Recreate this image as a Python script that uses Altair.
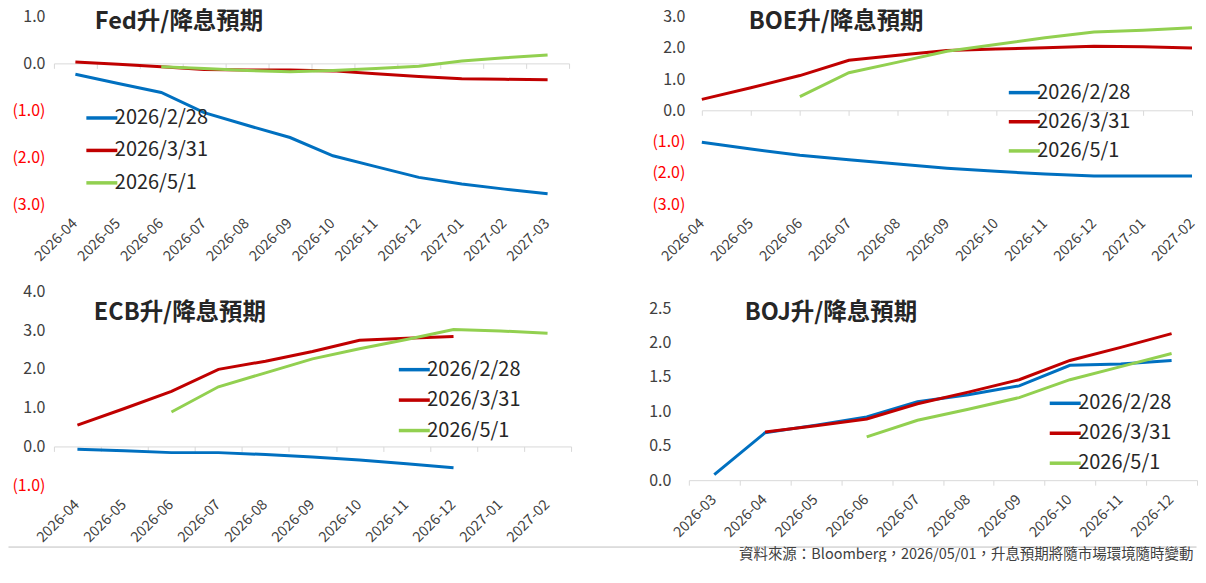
import altair as alt
import pandas as pd

FONT = "Noto Sans CJK TC"
NBSP = "\u00a0"

series_names = ["2026/2/28", "2026/3/31", "2026/5/1"]
series_colors = ["#0070C0", "#C00000", "#92D050"]

# ---------------- Fed ----------------
fed_months = ["2026-04", "2026-05", "2026-06", "2026-07", "2026-08", "2026-09",
              "2026-10", "2026-11", "2026-12", "2027-01", "2027-02", "2027-03"]
fed_0228 = [-0.23, -0.43, -0.62, -1.05, -1.32, -1.58, -1.97, -2.20, -2.43, -2.57, -2.68, -2.78]
fed_0331 = [0.03, -0.02, -0.07, -0.13, -0.14, -0.14, -0.16, -0.22, -0.28, -0.33, -0.34, -0.35]
fed_0501 = [None, None, -0.07, -0.11, -0.15, -0.18, -0.15, -0.11, -0.06, 0.05, 0.12, 0.18]
fed_yticks = [-3, -2, -1, 0, 1]

# ---------------- BOE ----------------
boe_months = ["2026-04", "2026-05", "2026-06", "2026-07", "2026-08", "2026-09",
              "2026-10", "2026-11", "2026-12", "2027-01", "2027-02"]
boe_0228 = [-1.02, -1.24, -1.44, -1.58, -1.72, -1.85, -1.95, -2.04, -2.10, -2.10, -2.10]
boe_0331 = [0.35, 0.72, 1.11, 1.60, 1.76, 1.91, 1.96, 2.00, 2.05, 2.03, 1.99]
boe_0501 = [None, None, 0.44, 1.20, 1.54, 1.89, 2.10, 2.32, 2.50, 2.56, 2.64]
boe_yticks = [-3, -2, -1, 0, 1, 2, 3]

# ---------------- ECB ----------------
ecb_months = ["2026-04", "2026-05", "2026-06", "2026-07", "2026-08", "2026-09",
              "2026-10", "2026-11", "2026-12", "2027-01", "2027-02"]
ecb_0228 = [-0.07, -0.11, -0.16, -0.16, -0.21, -0.27, -0.35, -0.45, -0.55, None, None]
ecb_0331 = [0.55, 0.98, 1.42, 1.99, 2.20, 2.45, 2.74, 2.79, 2.84, None, None]
ecb_0501 = [None, None, 0.89, 1.54, 1.90, 2.26, 2.52, 2.76, 3.02, 2.98, 2.92]
ecb_yticks = [-1, 0, 1, 2, 3, 4]

# ---------------- BOJ ----------------
boj_months = ["2026-03", "2026-04", "2026-05", "2026-06", "2026-07", "2026-08",
              "2026-09", "2026-10", "2026-11", "2026-12"]
boj_0228 = [0.08, 0.69, 0.80, 0.92, 1.14, 1.24, 1.37, 1.67, 1.69, 1.74]
boj_0331 = [None, 0.70, 0.79, 0.89, 1.11, 1.28, 1.46, 1.74, 1.93, 2.13]
boj_0501 = [None, None, None, 0.63, 0.87, 1.03, 1.20, 1.46, 1.65, 1.84]
boj_yticks = [0, 0.5, 1.0, 1.5, 2.0, 2.5]

footer_text = "資料來源：Bloomberg，2026/05/01，升息預期將隨市場環境隨時變動"

LEFT_X = 54.5  # expected page x of the left plots


def long_df(months, groups):
    rows = []
    for name, vals in zip(series_names, groups):
        for m, v in zip(months, vals):
            if v is not None:
                rows.append({"month": m, "series": name, "value": v})
    return pd.DataFrame(rows)


def panel(months, groups, yticks, ydomain, width, height, point, title,
          tdx, tdy, lx, ly, ypad, rowpad, extra=None):
    df = long_df(months, groups)
    ymin, ymax = ydomain
    zero_off = -height * (0 - ymin) / (ymax - ymin)
    if point:
        xscale = alt.Scale(type="point", padding=0)
    else:
        xscale = alt.Scale(type="band", paddingInner=0, paddingOuter=0)
    xkw = dict(sort=months, scale=xscale, title=None)
    if not point:
        xkw["bandPosition"] = 0.5

    label_axis = alt.Axis(orient="bottom", domain=False, ticks=False, grid=False,
                          labelAngle=-45, labelAlign="right", labelBaseline="middle",
                          labelFont=FONT, labelFontSize=14.5,
                          labelColor="#404040", labelPadding=17, labelOverlap=False,
                          title=None)
    tkw = dict(orient="bottom", offset=zero_off, labels=False, domain=True,
               domainColor="#D9D9D9", domainWidth=1, ticks=True, tickColor="#D9D9D9",
               tickSize=5, grid=False, title=None)
    if not point:
        tkw["tickBand"] = "extent"
    tick_axis = alt.Axis(**tkw)

    yaxis = alt.Axis(
        values=yticks,
        labelExpr="datum.value < 0 ? '(' + format(-datum.value, '.1f') + ')' : format(datum.value, '.1f') + '" + NBSP + "'",
        labelColor={"condition": {"test": "datum.value < 0", "value": "#FF0000"}, "value": "#404040"},
        domain=False, ticks=False, grid=False, labelFont=FONT, labelFontSize=16,
        labelPadding=ypad, title=None)
    yscale = alt.Scale(domain=[ymin, ymax], nice=False, zero=False)

    dummy = alt.Chart(df).mark_point(opacity=0).encode(
        x=alt.X("month:O", axis=tick_axis, **xkw),
        y=alt.Y("value:Q", scale=yscale, axis=yaxis),
    )
    lines = alt.Chart(df).mark_line(strokeWidth=3).encode(
        x=alt.X("month:O", axis=label_axis, **xkw),
        y=alt.Y("value:Q", scale=yscale, axis=yaxis),
        color=alt.Color("series:N",
                        scale=alt.Scale(domain=series_names, range=series_colors),
                        legend=alt.Legend(orient="none", legendX=lx, legendY=ly, title=None,
                                          symbolType="M-2.5,0H2.5", symbolSize=154,
                                          symbolStrokeWidth=3.5, labelFont=FONT,
                                          labelFontSize=20, labelColor="#262626",
                                          labelOffset=3, rowPadding=rowpad)),
    )
    tdf = pd.DataFrame({"t": [title]})
    ttl = alt.Chart(tdf).mark_text(align="left", baseline="middle", font=FONT,
                                   fontSize=23.5, fontWeight="bold", color="#262626").encode(
        x=alt.value(tdx), y=alt.value(tdy), text="t:N")
    layers = [dummy, lines, ttl] + (extra or [])
    return alt.layer(*layers).resolve_axis(x="independent").properties(
        width=width, height=height)


# footer (source note) drawn in the ECB panel's pixel frame (plot top = page y 295)
fdf = pd.DataFrame({"text": [footer_text]})
f_rule = alt.Chart(fdf).mark_rule(color="#BFBFBF", strokeWidth=1).encode(
    x=alt.value(-(LEFT_X - 9)), x2=alt.value(1199 - LEFT_X), y=alt.value(256))
f_text = alt.Chart(fdf).mark_text(align="right", baseline="middle", font=FONT,
                                  fontSize=14.5, color="#404040").encode(
    x=alt.value(1196 - LEFT_X), y=alt.value(264), text="text:N")

fed = panel(fed_months, [fed_0228, fed_0331, fed_0501], fed_yticks, (-3, 1),
            516, 188, False, "Fed升/降息預期", 41, 6, 38, 91.7, 9, 12.5)
boe = panel(boe_months, [boe_0228, boe_0331, boe_0501], boe_yticks, (-3, 3),
            491, 188, True, "BOE升/降息預期", 47, 6, 313, 66.3, 17, 9.2)
ecb = panel(ecb_months, [ecb_0228, ecb_0331, ecb_0501], ecb_yticks, (-1, 4),
            518, 194, False, "ECB升/降息預期", 40, 22, 351, 68.3, 9, 10.5,
            extra=[f_rule, f_text])
boj = panel(boj_months, [boj_0228, boj_0331, boj_0501], boj_yticks, (0, 2.742),
            509, 189, False, "BOJ升/降息預期", 56, 22, 367, 102, 18, 10)

row1 = alt.hconcat(fed, boe, spacing=133, bounds="flush").resolve_legend(color="independent")
row2 = alt.hconcat(ecb, boj, spacing=118, bounds="flush").resolve_legend(color="independent")

chart = alt.vconcat(row1, row2, spacing=19.5).resolve_legend(color="independent").properties(
    padding=0, background="white"
).configure_view(stroke=None)

chart.save("out.html", embed_options={"renderer": "svg", "actions": False})
